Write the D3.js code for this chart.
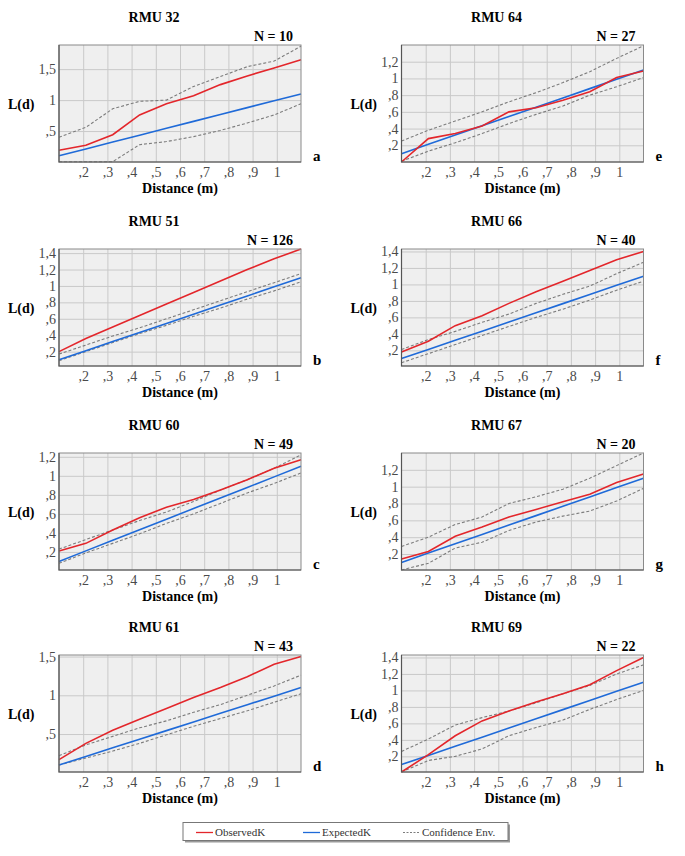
<!DOCTYPE html>
<html>
<head>
<meta charset="utf-8">
<script src="https://cdn.jsdelivr.net/npm/d3@7"></script>
<style>
  body { margin: 0; background: #fff; }
  text { font-family: "Liberation Serif", "Times New Roman", serif; }
</style>
</head>
<body>
<svg id="chart"></svg>
<script>
/** Distances (m) where K was evaluated */
const distances = [0.1, 0.211, 0.322, 0.433, 0.544, 0.656, 0.767, 0.878, 0.989, 1.1];
const expectedK = [0.1, 0.211, 0.322, 0.433, 0.544, 0.656, 0.767, 0.878, 0.989, 1.1];

/** Observed L(d) and envelope per RMU */
const obs32 = [0.19, 0.27, 0.44, 0.76, 0.94, 1.07, 1.25, 1.39, 1.52, 1.65];
const up32  = [0.40, 0.56, 0.86, 0.98, 1.00, 1.22, 1.38, 1.54, 1.63, 1.87];
const lo32  = [0.005, 0.005, 0.005, 0.28, 0.33, 0.41, 0.51, 0.63, 0.76, 0.94];

const obs51 = [0.20, 0.36, 0.50, 0.64, 0.78, 0.92, 1.06, 1.20, 1.33, 1.45];
const up51  = [0.17, 0.28, 0.39, 0.49, 0.60, 0.71, 0.82, 0.93, 1.04, 1.15];
const lo51  = [0.09, 0.20, 0.31, 0.42, 0.52, 0.63, 0.73, 0.84, 0.94, 1.05];

const obs60 = [0.21, 0.29, 0.43, 0.56, 0.67, 0.75, 0.85, 0.96, 1.08, 1.17];
const up60  = [0.23, 0.33, 0.43, 0.53, 0.62, 0.73, 0.85, 0.96, 1.08, 1.22];
const lo60  = [0.08, 0.19, 0.29, 0.39, 0.50, 0.60, 0.71, 0.82, 0.92, 1.03];

const obs61 = [0.17, 0.38, 0.55, 0.69, 0.83, 0.97, 1.10, 1.24, 1.40, 1.50];
const up61  = [0.22, 0.36, 0.47, 0.58, 0.67, 0.78, 0.88, 1.00, 1.12, 1.26];
const lo61  = [0.10, 0.19, 0.28, 0.38, 0.49, 0.60, 0.70, 0.80, 0.91, 1.02];

const obs64 = [0.00, 0.28, 0.34, 0.43, 0.60, 0.65, 0.74, 0.84, 1.01, 1.09];
const up64  = [0.25, 0.38, 0.49, 0.60, 0.72, 0.83, 0.95, 1.08, 1.24, 1.39];
const lo64  = [0.01, 0.13, 0.23, 0.34, 0.46, 0.57, 0.67, 0.80, 0.90, 1.01];

const obs66 = [0.18, 0.31, 0.50, 0.62, 0.77, 0.91, 1.04, 1.17, 1.30, 1.40];
const up66  = [0.21, 0.33, 0.43, 0.54, 0.64, 0.77, 0.88, 0.98, 1.13, 1.27];
const lo66  = [0.05, 0.16, 0.27, 0.38, 0.49, 0.60, 0.70, 0.81, 0.93, 1.04];

const obs67 = [0.14, 0.23, 0.41, 0.52, 0.64, 0.73, 0.82, 0.91, 1.05, 1.15];
const up67  = [0.29, 0.40, 0.55, 0.64, 0.80, 0.88, 0.97, 1.10, 1.25, 1.40];
const lo67  = [0.01, 0.09, 0.27, 0.34, 0.48, 0.58, 0.65, 0.71, 0.83, 0.98];

const obs69 = [0.01, 0.22, 0.45, 0.63, 0.75, 0.86, 0.96, 1.07, 1.24, 1.40];
const up69  = [0.26, 0.41, 0.58, 0.67, 0.75, 0.85, 0.96, 1.06, 1.20, 1.31];
const lo69  = [0.01, 0.15, 0.20, 0.29, 0.45, 0.55, 0.64, 0.77, 0.89, 1.00];

/** Panel labels (left column a-d, right column e-h) */
const rmuNames = ['RMU 32', 'RMU 51', 'RMU 60', 'RMU 61', 'RMU 64', 'RMU 66', 'RMU 67', 'RMU 69'];
const nValues  = [10, 126, 49, 43, 27, 40, 20, 22];
const letters  = ['a', 'b', 'c', 'd', 'e', 'f', 'g', 'h'];
const observedSets = [obs32, obs51, obs60, obs61, obs64, obs66, obs67, obs69];
const upperSets    = [up32, up51, up60, up61, up64, up66, up67, up69];
const lowerSets    = [lo32, lo51, lo60, lo61, lo64, lo66, lo67, lo69];
const yDomains = [[0, 1.89], [0.025, 1.45], [0.01, 1.24], [0.01, 1.52],
                  [0, 1.4], [0.01, 1.43], [0.01, 1.4], [0.01, 1.43]];
const yTickSets = [
  [0.5, 1, 1.5],
  [0.2, 0.4, 0.6, 0.8, 1, 1.2, 1.4],
  [0.2, 0.4, 0.6, 0.8, 1, 1.2],
  [0.5, 1, 1.5],
  [0.2, 0.4, 0.6, 0.8, 1, 1.2],
  [0.2, 0.4, 0.6, 0.8, 1, 1.2, 1.4],
  [0.2, 0.4, 0.6, 0.8, 1, 1.2],
  [0.2, 0.4, 0.6, 0.8, 1, 1.2, 1.4]
];
const xTicks = [0.2, 0.3, 0.4, 0.5, 0.6, 0.7, 0.8, 0.9, 1];
const legendKeys = ['ObservedK', 'ExpectedK', 'Confidence Env.'];

/** Layout */
const width = 685;
const height = 856;
const colX = [59, 401.5];
const rowY = [45, 249, 453, 655];
const plotW = 242;
const plotH = 117;

const colors = { obs: '#e3262b', exp: '#1f6ad8', env: '#7d7d7d' };

const svg = d3.select('#chart').attr('width', width).attr('height', height);

// SPSS style decimals: ",5"  "1"  "1,5"
const fmt = v => {
  let s = String(+v.toFixed(2));
  if (s.startsWith('0.')) s = s.slice(1);
  return s.replace('.', ',');
};

const drawPanel = (i) => {
  const col = Math.floor(i / 4);
  const row = i % 4;
  const left = colX[col];
  const top = rowY[row];

  const x = d3.scaleLinear().domain([0.1, 1.1]).range([0, plotW]);
  const y = d3.scaleLinear().domain(yDomains[i]).range([plotH, 0]);

  const g = svg.append('g').attr('transform', `translate(${left},${top})`);

  g.append('rect')
    .attr('width', plotW).attr('height', plotH)
    .attr('fill', '#efefef');

  // grid + tick labels
  const xAxis = d3.axisBottom(x).tickValues(xTicks).tickFormat(fmt)
    .tickSize(-plotH).tickSizeOuter(0).tickPadding(5);
  const yAxis = d3.axisLeft(y).tickValues(yTickSets[i]).tickFormat(fmt)
    .tickSize(-plotW).tickSizeOuter(0).tickPadding(3);

  [[xAxis, `translate(0,${plotH})`], [yAxis, null]].forEach(([ax, tr]) => {
    const a = g.append('g').call(ax);
    if (tr) a.attr('transform', tr);
    a.select('.domain').remove();
    a.selectAll('line').attr('stroke', '#c9c9c9').attr('stroke-width', 1);
    a.selectAll('text')
      .attr('font-family', '"Liberation Serif", serif')
      .attr('font-size', 14)
      .attr('fill', '#4a4a4a');
  });

  const line = d3.line()
    .x((d, k) => x(distances[k]))
    .y(d => y(d));

  [upperSets[i], lowerSets[i]].forEach(s => {
    g.append('path').datum(s)
      .attr('d', line)
      .attr('fill', 'none')
      .attr('stroke', colors.env)
      .attr('stroke-width', 1.1)
      .attr('stroke-dasharray', '3,2');
  });

  g.append('path').datum(expectedK)
    .attr('d', line).attr('fill', 'none')
    .attr('stroke', colors.exp).attr('stroke-width', 1.6);

  g.append('path').datum(observedSets[i])
    .attr('d', line).attr('fill', 'none')
    .attr('stroke', colors.obs).attr('stroke-width', 1.6);

  g.append('rect')
    .attr('width', plotW).attr('height', plotH)
    .attr('fill', 'none').attr('stroke', '#8a8a8a').attr('stroke-width', 1);

  // darker left / bottom axis lines
  g.append('path')
    .attr('d', `M0,0V${plotH}H${plotW}`)
    .attr('fill', 'none').attr('stroke', '#555').attr('stroke-width', 1.2);

  // texts
  g.append('text')
    .attr('x', plotW / 2 - 26).attr('y', -23)
    .attr('text-anchor', 'middle')
    .attr('font-size', 14).attr('font-weight', 'bold')
    .text(rmuNames[i]);

  g.append('text')
    .attr('x', plotW - 8).attr('y', -4)
    .attr('text-anchor', 'end')
    .attr('font-size', 14).attr('font-weight', 'bold')
    .text(`N = ${nValues[i]}`);

  g.append('text')
    .attr('x', -51).attr('y', plotH / 2 + 5)
    .attr('font-size', 14).attr('font-weight', 'bold')
    .text('L(d)');

  g.append('text')
    .attr('x', plotW / 2).attr('y', plotH + 31)
    .attr('text-anchor', 'middle')
    .attr('font-size', 14).attr('font-weight', 'bold')
    .text('Distance (m)');

  g.append('text')
    .attr('x', plotW + 12).attr('y', plotH - 1)
    .attr('font-size', 15).attr('font-weight', 'bold')
    .text(letters[i]);
};

d3.range(8).forEach(drawPanel);

/** Legend */
const lg = svg.append('g').attr('transform', 'translate(183,822.5)');
lg.append('rect').attr('x', 2).attr('y', 2).attr('width', 325).attr('height', 18).attr('fill', '#9a9a9a');
lg.append('rect').attr('width', 325).attr('height', 18)
  .attr('fill', '#fff').attr('stroke', '#777').attr('stroke-width', 1);

const legendX = [13, 120, 220];
const legendColor = [colors.obs, colors.exp, colors.env];
legendKeys.forEach((k, j) => {
  lg.append('line')
    .attr('x1', legendX[j]).attr('x2', legendX[j] + 17)
    .attr('y1', 10).attr('y2', 10)
    .attr('stroke', legendColor[j])
    .attr('stroke-width', j < 2 ? 1.3 : 1)
    .attr('stroke-dasharray', j === 2 ? '2,1.5' : null);
  lg.append('text')
    .attr('x', legendX[j] + 19).attr('y', 13.5)
    .attr('font-size', 11).attr('fill', '#333')
    .text(k);
});
</script>
</body>
</html>
